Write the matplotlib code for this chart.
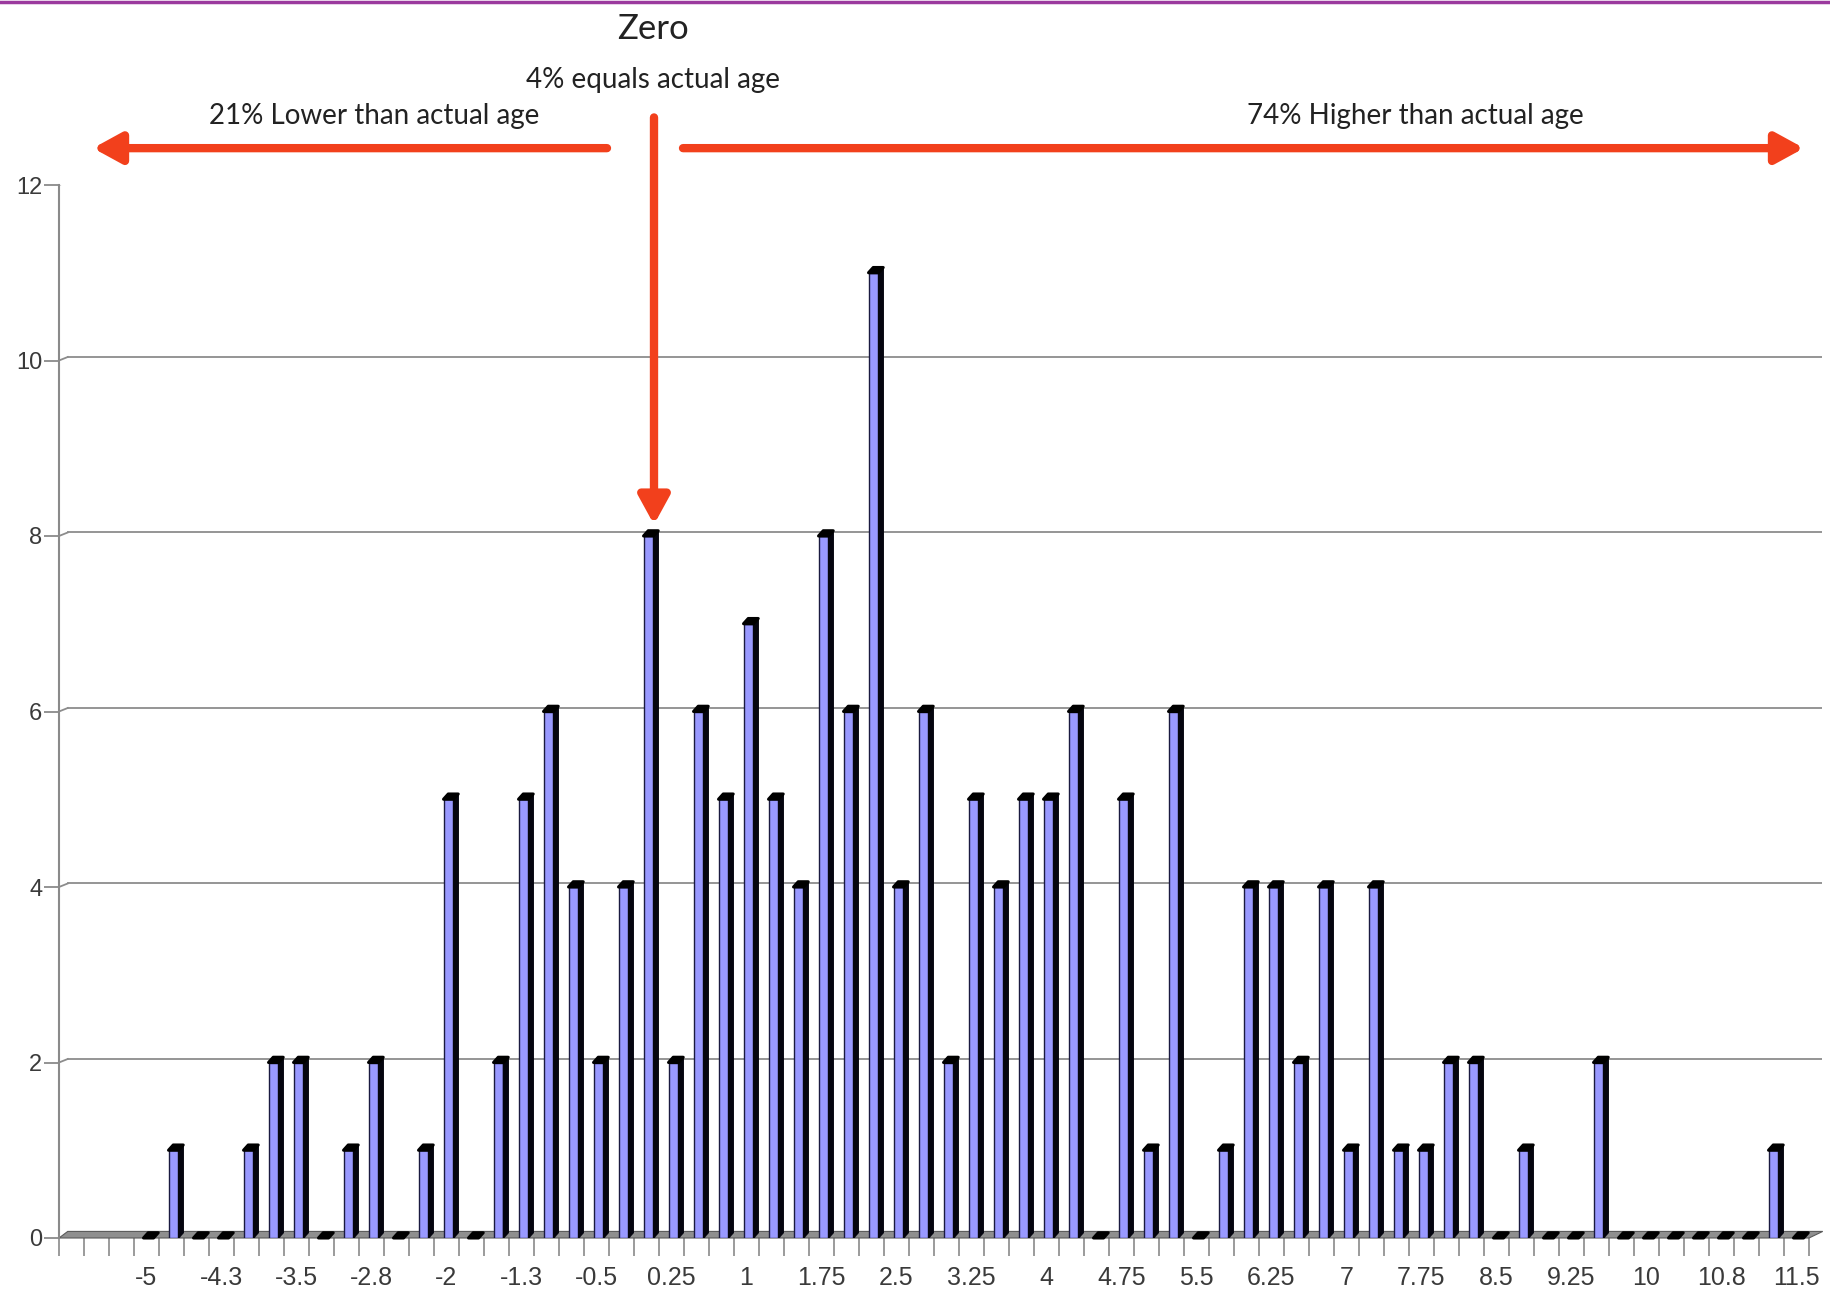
import numpy as np
import matplotlib
matplotlib.use("Agg")
import matplotlib.pyplot as plt
from matplotlib.patches import Polygon
from matplotlib.lines import Line2D

# ---- data ----
categories = [round(-5.75 + 0.25 * i, 2) for i in range(70)]  # -5.75 .. 11.5
counts = [np.nan, np.nan, np.nan,          # -5.75, -5.5, -5.25 (blank)
          0, 1, 0, 0, 1, 2, 2, 0, 1, 2, 0, 1, 5, 0, 2, 5, 6, 4, 2, 4,   # -5 .. -0.25
          8,                                                           # 0
          2, 6, 5, 7, 5, 4, 8, 6, 11, 4, 6, 2, 5, 4, 5, 5, 6, 0, 5, 1, 6, 0,  # 0.25 .. 5.5
          1, 4, 4, 2, 4, 1, 4, 1, 1, 2, 2, 0, 1, 0, 0, 2,               # 5.75 .. 9.5
          0, 0, 0, 0, 0, 0, 1, 0]                                      # 9.75 .. 11.5
tick_labels = ["-5", "-4.3", "-3.5", "-2.8", "-2", "-1.3", "-0.5", "0.25", "1",
               "1.75", "2.5", "3.25", "4", "4.75", "5.5", "6.25", "7", "7.75",
               "8.5", "9.25", "10", "10.8", "11.5"]
y_ticks = [0, 2, 4, 6, 8, 10, 12]
notes = ["Zero", "4% equals actual age", "21% Lower than actual age", "74% Higher than actual age"]

W, H = 1831, 1290
fig = plt.figure(figsize=(W / 100, H / 100), dpi=100)
fig.patch.set_facecolor("white")
ax = fig.add_axes([59 / W, 52 / H, 1762.5 / W, 1053 / H])
n = len(categories)
ax.set_xlim(-0.5, 70.0)
ax.set_ylim(0, 12)
for s in ["top", "right", "bottom"]:
    ax.spines[s].set_visible(False)
ax.spines["left"].set_color("#8a8a8a")
ax.spines["left"].set_linewidth(1.5)

grid_c = "#8c8c8c"
dy = 0.06
# back-wall gridlines with small 3D connectors
for yv in y_ticks[1:]:
    ax.plot([-0.15, 70.0], [yv + 0.04, yv + 0.04], color=grid_c, lw=1.3, zorder=1)
    ax.plot([-0.5, -0.15], [yv, yv + 0.04], color=grid_c, lw=1.3, zorder=1)

# floor
floor = Polygon([(-0.5, 0), (n - 0.5, 0), (n + 0.05, 0.075), (-0.15, 0.075)],
                closed=True, facecolor="#8f8f8f", edgecolor="#5a5a5a", lw=0.8,
                zorder=2, clip_on=False)
ax.add_patch(floor)

x = np.arange(n)
vals = np.array(counts, dtype=float)
mask = ~np.isnan(vals)
front_l, front_w, side_w = -0.12, 0.40, 0.19

ax.bar(x[mask] + front_l + front_w / 2, vals[mask], width=front_w,
       color="#9999ff", edgecolor="#1a1a40", linewidth=1.0, zorder=3)
for k, v in zip(x[mask], vals[mask]):
    xr = k + front_l + front_w
    side = Polygon([(xr, 0), (xr + side_w, dy), (xr + side_w, v + dy), (xr, v)],
                   closed=True, facecolor="#05050f", edgecolor="#05050f", lw=1.0, zorder=3)
    top = Polygon([(k + front_l, v), (xr, v), (xr + side_w, v + dy), (k + front_l + side_w, v + dy)],
                  closed=True, facecolor="#000000", edgecolor="#000000", lw=2.2,
                  joinstyle="round", zorder=4, clip_on=False)
    ax.add_patch(side)
    ax.add_patch(top)

# ticks
lab_pos = np.arange(3, n, 3)
ax.set_xticks(lab_pos)
ax.set_xticklabels(tick_labels, fontsize=18, color="#3a3a3a", family="Liberation Sans")
ax.set_xticks(np.arange(-0.5, n, 1.0), minor=True)
ax.tick_params(axis="x", which="major", length=0, pad=20)
ax.tick_params(axis="x", which="minor", length=13, color="#8a8a8a", width=1.2)
ax.set_yticks(y_ticks)
ax.set_yticklabels([str(t) for t in y_ticks], fontsize=17, color="#3a3a3a",
                   family="Liberation Sans")
ax.tick_params(axis="y", length=11, color="#8a8a8a", width=1.3, pad=1)

# arrows
ac = "#f2401c"
astyle = "-|>,head_length=0.42,head_width=0.23"
ax.annotate("", xy=(0.86, 12.42), xytext=(21.42, 12.42), annotation_clip=False,
            arrowprops=dict(arrowstyle=astyle, lw=6, color=ac, mutation_scale=40,
                            shrinkA=0, shrinkB=0))
ax.annotate("", xy=(69.3, 12.42), xytext=(24.46, 12.42), annotation_clip=False,
            arrowprops=dict(arrowstyle=astyle, lw=6, color=ac, mutation_scale=40,
                            shrinkA=0, shrinkB=0))
ax.annotate("", xy=(23.3, 8.13), xytext=(23.3, 12.77), annotation_clip=False,
            arrowprops=dict(arrowstyle=astyle, lw=6, color=ac, mutation_scale=40,
                            shrinkA=0, shrinkB=0))

# texts
tc = "#222222"
fig.text(653 / W, 1 - 29 / H, notes[0], ha="center", va="center", fontsize=25,
         family="Lato", color=tc)
fig.text(653 / W, 1 - 80 / H, notes[1], ha="center", va="center", fontsize=20,
         family="Lato", color=tc)
fig.text(374 / W, 1 - 116 / H, notes[2], ha="center", va="center", fontsize=20,
         family="Lato", color=tc)
fig.text(1415 / W, 1 - 116 / H, notes[3], ha="center", va="center", fontsize=20,
         family="Lato", color=tc)

# top purple rule
fig.add_artist(Line2D([0, 1], [1 - 1.5 / H, 1 - 1.5 / H], transform=fig.transFigure,
                      color="#9b3a9e", lw=2.5))

fig.savefig("out.png", dpi=100, facecolor="white")
